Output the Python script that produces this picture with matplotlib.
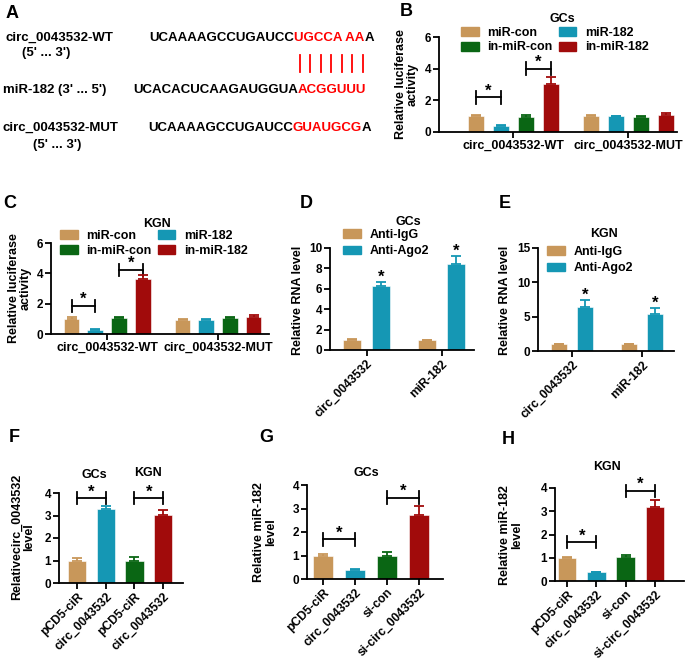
import numpy as np
import matplotlib
matplotlib.use('Agg')
import matplotlib.pyplot as plt

plt.rcParams['font.family'] = ['Liberation Sans', 'DejaVu Sans']
plt.rcParams['font.weight'] = 'bold'
plt.rcParams['axes.linewidth'] = 1.3

W, H = 685, 661
TAN, CYAN, GREEN, RED = '#C8975A', '#1597B4', '#0A6614', '#A10B0B'

# ---- data ----
luc_groups = ['circ_0043532-WT', 'circ_0043532-MUT']
luc_series = ['miR-con', 'miR-182', 'in-miR-con', 'in-miR-182']
gcs_luc = [[1.0, 0.38, 0.95, 3.05], [1.0, 0.98, 0.92, 1.05]]
gcs_luc_err = [[0.1, 0.05, 0.1, 0.4], [0.05, 0.05, 0.1, 0.12]]
kgn_luc = [[1.0, 0.28, 1.05, 3.62], [0.95, 0.95, 1.05, 1.12]]
kgn_luc_err = [[0.1, 0.05, 0.05, 0.25], [0.05, 0.05, 0.05, 0.1]]

rip_genes = ['circ_0043532', 'miR-182']
rip_series = ['Anti-IgG', 'Anti-Ago2']
gcs_rip = [[1.0, 6.25], [0.95, 8.4]]
gcs_rip_err = [[0.08, 0.4], [0.05, 0.8]]
kgn_rip = [[0.95, 6.4], [1.0, 5.4]]
kgn_rip_err = [[0.05, 1.0], [0.08, 0.9]]

f_labels = ['pCD5-ciR', 'circ_0043532', 'pCD5-ciR', 'circ_0043532']
f_vals = [1.0, 3.3, 1.0, 3.02]
f_err = [0.12, 0.12, 0.15, 0.22]

gh_labels = ['pCD5-ciR', 'circ_0043532', 'si-con', 'si-circ_0043532']
g_vals = [1.0, 0.37, 0.98, 2.72]
g_err = [0.08, 0.04, 0.16, 0.38]
h_vals = [1.0, 0.37, 1.03, 3.18]
h_err = [0.05, 0.03, 0.08, 0.3]

fig = plt.figure(figsize=(6.85, 6.61), dpi=100)

# overlay in pixel units (y down) for free text
ov = fig.add_axes([0, 0, 1, 1])
ov.set_xlim(0, W)
ov.set_ylim(H, 0)
ov.axis('off')


def txt(x, y, s, size=9, **kw):
    return ov.text(x, y, s, fontsize=size, fontweight='bold', ha='center', va='center', **kw)


def add_axes(left, right, top, bottom):
    return fig.add_axes([left / W, 1 - bottom / H, (right - left) / W, (bottom - top) / H])


def style(ax, ymax, ystep, xlim):
    ax.set_ylim(0, ymax)
    ax.set_xlim(*xlim)
    ax.set_yticks(np.arange(0, ymax + 0.001, ystep))
    for s in ['top', 'right']:
        ax.spines[s].set_visible(False)
    ax.tick_params(direction='out', length=4, width=1.3, labelsize=8.5, pad=1.5)
    for t in ax.get_yticklabels():
        t.set_fontweight('bold')


def bars(ax, xs, vals, errs, colors, width):
    ax.bar(xs, vals, width, color=colors, edgecolor='white', linewidth=0.4, zorder=2)
    for x, v, e, c in zip(xs, vals, errs, colors):
        ax.errorbar(x, v, yerr=[[0], [e]], color=c, capsize=3.5, elinewidth=1.3,
                    capthick=1.3, zorder=3)


def bracket(ax, x1, x2, y, h):
    for xx, yy in [([x1, x2], [y, y]), ([x1, x1], [y - h, y + h]), ([x2, x2], [y - h, y + h])]:
        ax.plot(xx, yy, color='k', lw=1.3, clip_on=False)
    ax.annotate('*', xy=((x1 + x2) / 2, y), xytext=(0, -1), textcoords='offset points',
                ha='center', va='bottom', fontsize=12, fontweight='bold', annotation_clip=False)


def star(ax, x, y):
    ax.annotate('*', xy=(x, y), xytext=(0, -2), textcoords='offset points',
                ha='center', va='bottom', fontsize=12, fontweight='bold', annotation_clip=False)


def rot_labels(ax, labels):
    ax.set_xticklabels(labels, rotation=45, ha='right', rotation_mode='anchor',
                       fontsize=8.7, fontweight='bold')


# ---- panel A ----
def seq(x, y, parts):
    prev = ov.text(x, y, parts[0][0], color=parts[0][1], fontsize=9.5, fontweight='bold',
                   ha='left', va='center')
    for s, c in parts[1:]:
        prev = ov.annotate(s, xy=(1, 0), xycoords=prev, ha='left', va='bottom', color=c,
                           fontsize=9.5, fontweight='bold')


txt(12, 13, 'A', size=13)
txt(59, 38, 'circ_0043532-WT', size=9.5)
txt(46, 53, "(5' ... 3')", size=9.5)
seq(149, 38, [('UCAAAAGCCUGAUCC', 'black'), ('UGCCA AA', 'red'), ('A', 'black')])
for i in range(7):
    ov.plot([300 + 10.5 * i] * 2, [55, 72], color='red', lw=1.3)
txt(55, 90, "miR-182 (3' ... 5')", size=9.5)
seq(133, 90, [('UCACACUCAAGAUGGUA', 'black'), ('ACGGUUU', 'red')])
txt(60, 128, 'circ_0043532-MUT', size=9.5)
txt(57, 145, "(5' ... 3')", size=9.5)
seq(148, 128, [('UCAAAAGCCUGAUCC', 'black'), ('GUAUGCG', 'red'), ('A', 'black')])

cols4 = [TAN, CYAN, GREEN, RED]


def luc_panel(rect, unit_gap, xlim, vals, errs, br, leg_xy, title_xy, title, ylab_xy):
    ax = add_axes(*rect)
    style(ax, 6, 2, xlim)
    centers = []
    for g in range(2):
        xs = [g * unit_gap + i for i in range(4)]
        bars(ax, xs, vals[g], errs[g], cols4, 0.66)
        centers.append(np.mean(xs))
    ax.set_xticks(centers)
    ax.set_xticklabels(luc_groups, fontsize=9, fontweight='bold')
    bracket(ax, 0, 1, br[0], 0.4)
    bracket(ax, 2, 3, br[1], 0.4)
    hs = [plt.Rectangle((0, 0), 1, 1, color=c) for c in cols4]
    order = [0, 2, 1, 3]
    ax.legend([hs[i] for i in order], [luc_series[i] for i in order], ncol=2,
              loc='upper left', bbox_to_anchor=(leg_xy[0] / W, 1 - leg_xy[1] / H),
              bbox_transform=fig.transFigure, frameon=False,
              handlelength=1.4, handleheight=0.7, handletextpad=0.7,
              columnspacing=0.5, labelspacing=0.2, borderpad=0, borderaxespad=0,
              prop={'weight': 'bold', 'size': 9})
    txt(*title_xy, title)
    txt(*ylab_xy, 'Relative luciferase\nactivity', rotation=90, linespacing=1.0)
    return ax


# ---- panel B ----
txt(406, 12, 'B', size=13)
luc_panel((439, 677, 37, 132), 4.6, (-1.48, 8.04), gcs_luc, gcs_luc_err, (2.2, 4.0),
          (461, 27), (562, 19), 'GCs', (407, 84))

# ---- panel C ----
txt(10, 203, 'C', size=13)
luc_panel((51, 269, 243, 334), 4.68, (-0.87, 8.33), kgn_luc, kgn_luc_err, (1.87, 4.24),
          (60, 230), (157, 224), 'KGN', (20, 288))


def rip_panel(rect, gap, xlim, ymax, ystep, vals, errs, leg_xy, title_xy, title, ylab_xy):
    ax = add_axes(*rect)
    style(ax, ymax, ystep, xlim)
    centers = []
    for g in range(2):
        xs = [g * gap + i for i in range(2)]
        bars(ax, xs, vals[g], errs[g], [TAN, CYAN], 0.64)
        star(ax, xs[1], vals[g][1] + errs[g][1])
        centers.append(np.mean(xs))
    ax.set_xticks(centers)
    rot_labels(ax, rip_genes)
    hs = [plt.Rectangle((0, 0), 1, 1, color=c) for c in [TAN, CYAN]]
    ax.legend(hs, rip_series, loc='upper left',
              bbox_to_anchor=(leg_xy[0] / W, 1 - leg_xy[1] / H),
              bbox_transform=fig.transFigure, frameon=False,
              handlelength=1.4, handleheight=0.7, handletextpad=0.7,
              labelspacing=0.35, borderpad=0, borderaxespad=0,
              prop={'weight': 'bold', 'size': 9})
    txt(*title_xy, title)
    txt(*ylab_xy, 'Relative RNA level', rotation=90)
    return ax


# ---- panel D ----
txt(306, 203, 'D', size=13)
rip_panel((330, 474, 248, 350), 2.59, (-0.76, 4.21), 10, 2, gcs_rip, gcs_rip_err,
          (343, 229), (408, 222), 'GCs', (298, 300))

# ---- panel E ----
txt(505, 203, 'E', size=13)
rip_panel((538, 674, 248, 351), 2.69, (-0.81, 4.42), 15, 5, kgn_rip, kgn_rip_err,
          (547, 246), (604, 234), 'KGN', (505, 300))


def four_panel(rect, xlim, vals, errs, cols, labels, brs, ylab, ylab_xy):
    ax = add_axes(*rect)
    style(ax, 4, 1, xlim)
    xs = np.arange(4)
    bars(ax, xs, vals, errs, cols, 0.64)
    ax.set_xticks(xs)
    rot_labels(ax, labels)
    for (a, b, y) in brs:
        bracket(ax, a, b, y, 0.27)
    txt(*ylab_xy, ylab, rotation=90, linespacing=1.05)
    return ax


# ---- panel F ----
txt(14, 437, 'F', size=13)
four_panel((59, 183, 493, 583), (-0.63, 3.69), f_vals, f_err, [TAN, CYAN, GREEN, RED],
           f_labels, [(0, 1, 3.78), (2, 3, 3.78)], 'Relativecirc_0043532\nlevel', (23, 537))
txt(94, 475, 'GCs')
txt(148, 473, 'KGN')

# ---- panel G ----
txt(266, 437, 'G', size=13)
four_panel((307, 443, 485, 579), (-0.5, 3.75), g_vals, g_err, [TAN, CYAN, GREEN, RED],
           gh_labels, [(0, 1, 1.69), (2, 3, 3.46)], 'Relative miR-182\nlevel', (265, 532))
txt(366, 473, 'GCs')

# ---- panel H ----
txt(508, 440, 'H', size=13)
four_panel((555, 684, 488, 581), (-0.41, 3.99), h_vals, h_err, [TAN, CYAN, GREEN, RED],
           gh_labels, [(0, 1, 1.67), (2, 3, 3.88)], 'Relative miR-182\nlevel', (511, 535))
txt(607, 467, 'KGN')

fig.savefig('out.png', dpi=100)
